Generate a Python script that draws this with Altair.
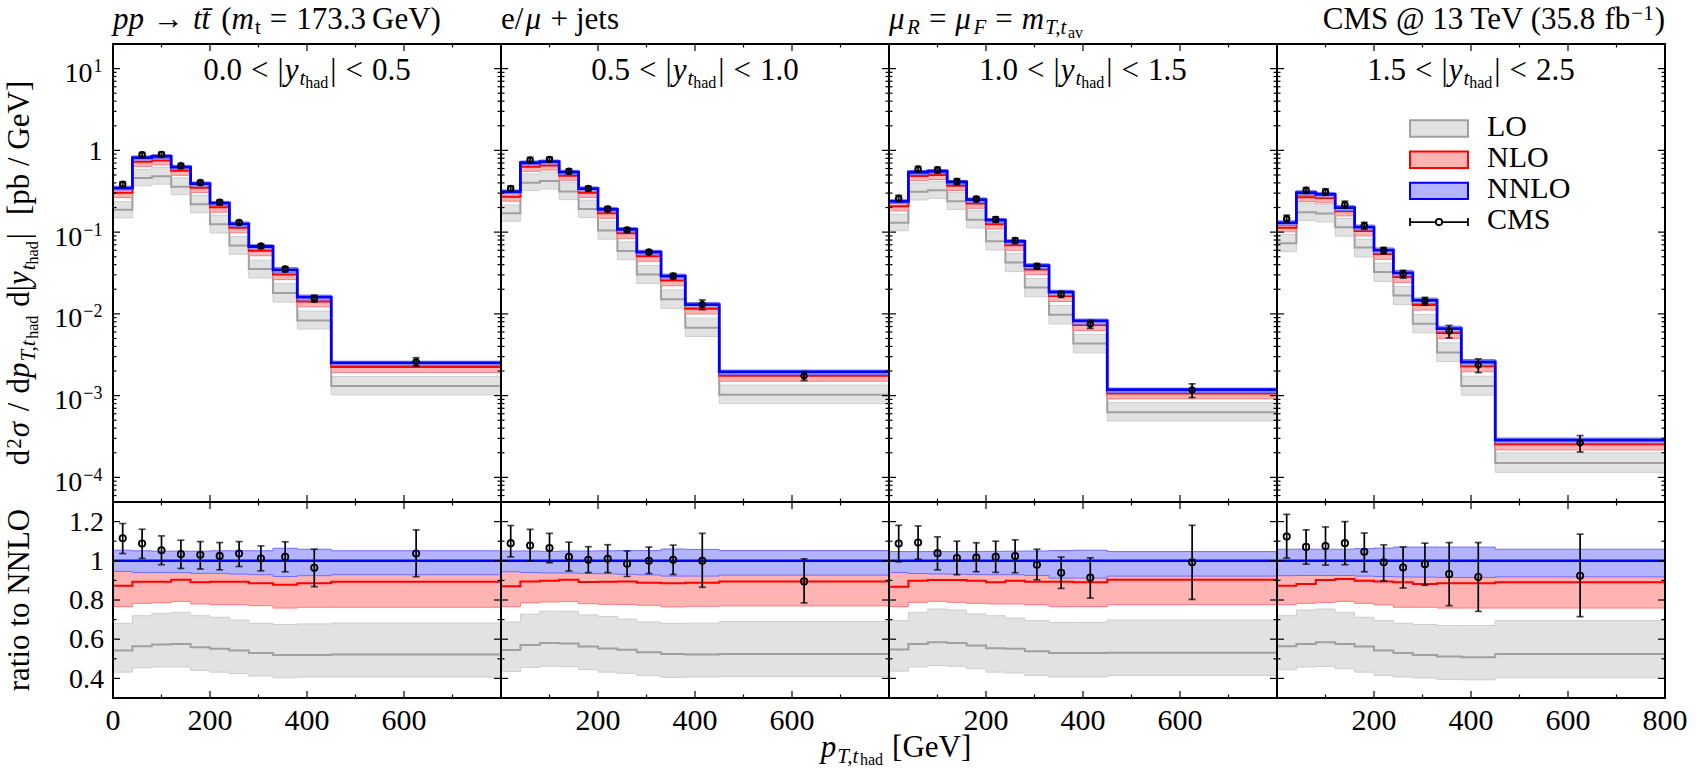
import altair as alt
import pandas as pd

FONT = "Liberation Serif"

# p_T(t_had) bin edges and the positions of the CMS points [GeV]
EDGES = [0, 40, 80, 120, 160, 200, 240, 280, 330, 380, 450, 800]
CENTERS = [20, 60, 100, 140, 180, 220, 260, 305, 355, 415, 625]

# |y(t_had)| slices, one per column
Y_SLICES = [("0.0", "0.5"), ("0.5", "1.0"), ("1.0", "1.5"), ("1.5", "2.5")]

# NNLO central prediction d2sigma / dpT d|y| [pb/GeV]
NNLO_XS = [
    [0.346, 0.813, 0.844, 0.625, 0.391, 0.226, 0.1265, 0.0667, 0.0346, 0.0160, 0.00251],
    [0.312, 0.706, 0.727, 0.543, 0.340, 0.190, 0.108, 0.0569, 0.0289, 0.0130, 0.00195],
    [0.238, 0.540, 0.555, 0.410, 0.250, 0.140, 0.0770, 0.0390, 0.0185, 0.0082, 0.00118],
    [0.130, 0.303, 0.289, 0.199, 0.115, 0.0602, 0.0318, 0.0146, 0.0066, 0.00258, 0.000286],
]

# everything below is normalised to the NNLO central value
LO_C = [
    [0.542, 0.564, 0.573, 0.576, 0.559, 0.551, 0.542, 0.529, 0.519, 0.520, 0.522],
    [0.545, 0.570, 0.580, 0.578, 0.563, 0.552, 0.546, 0.534, 0.524, 0.522, 0.525],
    [0.547, 0.576, 0.585, 0.580, 0.568, 0.554, 0.551, 0.539, 0.529, 0.529, 0.531],
    [0.564, 0.576, 0.585, 0.576, 0.563, 0.542, 0.529, 0.520, 0.512, 0.508, 0.525],
]
LO_LO = [
    [0.432, 0.454, 0.458, 0.458, 0.441, 0.432, 0.424, 0.412, 0.403, 0.407, 0.407],
    [0.435, 0.456, 0.462, 0.460, 0.445, 0.432, 0.426, 0.414, 0.405, 0.407, 0.410],
    [0.437, 0.458, 0.466, 0.462, 0.449, 0.432, 0.427, 0.415, 0.407, 0.407, 0.415],
    [0.444, 0.458, 0.461, 0.449, 0.432, 0.415, 0.407, 0.402, 0.395, 0.393, 0.403],
]
LO_HI = [
    [0.681, 0.720, 0.732, 0.737, 0.720, 0.712, 0.698, 0.681, 0.675, 0.678, 0.683],
    [0.688, 0.728, 0.743, 0.742, 0.724, 0.716, 0.703, 0.688, 0.680, 0.682, 0.690],
    [0.695, 0.737, 0.754, 0.749, 0.729, 0.720, 0.708, 0.695, 0.686, 0.686, 0.698],
    [0.720, 0.749, 0.754, 0.737, 0.712, 0.695, 0.681, 0.675, 0.670, 0.670, 0.695],
]
NLO_C = [
    [0.873, 0.893, 0.893, 0.903, 0.890, 0.893, 0.893, 0.886, 0.878, 0.886, 0.893],
    [0.870, 0.895, 0.898, 0.903, 0.892, 0.893, 0.895, 0.888, 0.885, 0.888, 0.895],
    [0.868, 0.898, 0.902, 0.902, 0.898, 0.890, 0.898, 0.893, 0.893, 0.890, 0.903],
    [0.873, 0.881, 0.902, 0.907, 0.898, 0.895, 0.890, 0.881, 0.885, 0.885, 0.890],
]
NLO_LO = [
    [0.766, 0.783, 0.786, 0.793, 0.780, 0.776, 0.776, 0.771, 0.759, 0.763, 0.763],
    [0.766, 0.785, 0.790, 0.792, 0.781, 0.778, 0.777, 0.773, 0.765, 0.768, 0.770],
    [0.766, 0.788, 0.793, 0.788, 0.783, 0.780, 0.780, 0.776, 0.766, 0.766, 0.776],
    [0.776, 0.783, 0.788, 0.793, 0.783, 0.775, 0.763, 0.763, 0.759, 0.759, 0.759],
]
NLO_HI = [
    [0.988, 1.000, 1.000, 1.008, 1.000, 1.000, 1.006, 1.000, 0.995, 1.000, 1.002],
    [0.986, 1.002, 1.004, 1.008, 1.000, 1.002, 1.004, 1.000, 0.998, 1.002, 1.004],
    [0.983, 1.003, 1.005, 1.005, 1.008, 1.015, 1.018, 1.010, 1.004, 1.005, 1.020],
    [0.990, 1.000, 1.014, 1.014, 1.010, 1.018, 1.020, 1.020, 1.020, 1.020, 1.020],
]
NNLO_LO = [
    [0.946, 0.940, 0.940, 0.940, 0.936, 0.936, 0.932, 0.929, 0.920, 0.924, 0.929],
    [0.944, 0.940, 0.938, 0.938, 0.935, 0.934, 0.931, 0.928, 0.922, 0.922, 0.927],
    [0.940, 0.935, 0.933, 0.932, 0.930, 0.929, 0.929, 0.925, 0.912, 0.912, 0.922],
    [0.924, 0.925, 0.925, 0.925, 0.922, 0.920, 0.918, 0.917, 0.915, 0.915, 0.918],
]
NNLO_HI = [
    [1.054, 1.051, 1.049, 1.049, 1.049, 1.051, 1.051, 1.051, 1.064, 1.059, 1.051],
    [1.050, 1.050, 1.048, 1.050, 1.050, 1.051, 1.052, 1.052, 1.060, 1.058, 1.052],
    [1.047, 1.047, 1.047, 1.047, 1.047, 1.048, 1.049, 1.050, 1.052, 1.054, 1.047],
    [1.059, 1.059, 1.059, 1.059, 1.062, 1.065, 1.070, 1.070, 1.070, 1.070, 1.059],
]
CMS_R = [
    [1.115, 1.088, 1.054, 1.034, 1.031, 1.025, 1.037, 1.012, 1.020, 0.964, 1.037],
    [1.090, 1.078, 1.065, 1.020, 1.005, 1.010, 0.985, 1.000, 1.005, 1.000, 0.895],
    [1.088, 1.093, 1.039, 1.014, 1.017, 1.020, 1.024, 0.980, 0.939, 0.914, 0.992],
    [1.124, 1.071, 1.075, 1.090, 1.046, 0.992, 0.966, 0.983, 0.932, 0.917, 0.924],
]
CMS_R_HI = [
    [1.190, 1.161, 1.127, 1.105, 1.098, 1.093, 1.098, 1.076, 1.097, 1.059, 1.158],
    [1.180, 1.160, 1.140, 1.095, 1.072, 1.082, 1.050, 1.070, 1.080, 1.140, 1.010],
    [1.181, 1.178, 1.122, 1.100, 1.092, 1.100, 1.107, 1.059, 1.019, 1.015, 1.181],
    [1.237, 1.158, 1.173, 1.200, 1.142, 1.081, 1.071, 1.090, 1.093, 1.093, 1.136],
]
CMS_R_LO = [
    [1.037, 1.012, 0.980, 0.961, 0.958, 0.954, 0.971, 0.949, 0.944, 0.868, 0.919],
    [1.020, 1.000, 0.990, 0.948, 0.940, 0.940, 0.920, 0.935, 0.930, 0.865, 0.785],
    [0.995, 1.008, 0.954, 0.929, 0.944, 0.941, 0.939, 0.903, 0.859, 0.810, 0.803],
    [1.014, 0.983, 0.978, 0.980, 0.944, 0.898, 0.861, 0.875, 0.771, 0.742, 0.715],
]

# axis ticks and labels
LOG_MAJOR = [1e-4, 1e-3, 1e-2, 1e-1, 1.0, 10.0]
LOG_MINOR = [m * 10.0 ** k for k in range(-5, 2) for m in range(2, 10) if 5e-5 < m * 10.0 ** k < 20]
LOG_LABEL_POS = [10.0, 1.0, 0.1, 0.01, 0.001, 0.0001]
LOG_LABEL_EXP = ["1", "", "\u22121", "\u22122", "\u22123", "\u22124"]
RATIO_MAJOR = [0.4, 0.6, 0.8, 1.0, 1.2]
RATIO_LABELS = ["0.4", "0.6", "0.8", "1", "1.2"]
RATIO_MINOR = [0.5, 0.7, 0.9, 1.1]
X_MAJOR = [200, 400, 600]
X_MINOR = [100, 300, 500, 700]
X_LABELS = [[0, 200, 400, 600], [200, 400, 600], [200, 400, 600], [200, 400, 600, 800]]

LEGEND_LABELS = ["LO", "NLO", "NNLO", "CMS"]

# colours
GRAY_FILL, GRAY_EDGE, GRAY_LINE = "#e2e2e2", "#cdcdcd", "#a0a0a0"
RED_FILL, RED_EDGE, RED_LINE = "#ffb3b3", "#ff7a7a", "#ff0000"
BLUE_FILL, BLUE_EDGE, BLUE_LINE = "#b3b3ff", "#6e6eff", "#0000ff"

PANEL_W, TOP_H, BOT_H = 388, 458, 196
S_MAIN, S_SUB, S_SUBSUB = 31, 21, 16
S_YTICK, S_XTICK, S_SUP = 28, 30, 18

XS = alt.Scale(domain=[0, 800], nice=False, zero=False)
YS_TOP = alt.Scale(type="log", domain=[5e-5, 20], nice=False)
YS_BOT = alt.Scale(domain=[0.3, 1.3], nice=False, zero=False)

# approximate advance widths (em) of the serif face, used to chain text pieces
W_RM = {" ": .25, "(": .333, ")": .333, "+": .564, ",": .25, ".": .25, "/": .278,
        "<": .564, "=": .564, "@": .921, "[": .333, "]": .333, "|": .2, "\u2212": .564,
        "\u2192": 1.0, "\u03c3": .55, "\u03bc": .55, "\u0304": 0.0,
        "C": .667, "G": .722, "L": .611, "M": .889, "N": .722, "O": .722, "S": .556,
        "T": .611, "V": .722, "a": .444, "b": .5, "d": .5, "e": .444, "f": .333,
        "h": .5, "i": .278, "j": .278, "m": .778, "o": .5, "p": .5, "r": .333,
        "s": .389, "t": .278, "v": .5, "y": .5}
W_IT = {"p": .5, "t": .278, "m": .722, "y": .444, "T": .556, "R": .611, "F": .611,
        ",": .25, "\u03bc": .55, "\u03c3": .55}


def text_width(s, size, italic=False):
    tab = W_IT if italic else W_RM
    return size * sum(tab.get(c, W_RM.get(c, 0.5)) for c in s)


def typeset(parts, x, y, align="left", angle=0):
    """parts: (text, italic, size, shift-below-baseline, gap-before)."""
    total = sum(g + text_width(t, s, it) for t, it, s, sh, g in parts)
    pos = {"left": 0.0, "center": -total / 2, "right": -total}[align]
    marks = []
    for t, it, s, sh, g in parts:
        pos += g
        if angle == 0:
            px, py = x + pos, y + sh
        else:
            px, py = x + sh, y - pos
        marks.append(
            alt.Chart(pd.DataFrame({"label": [t]}))
            .mark_text(font=FONT, fontSize=s, fontStyle="italic" if it else "normal",
                       align="left", baseline="alphabetic", angle=angle, color="black")
            .encode(x=alt.value(px), y=alt.value(py), text="label:N")
        )
        pos += text_width(t, s, it)
    return marks


def xenc(field="x"):
    return alt.X(f"{field}:Q", scale=XS, axis=None)


def yenc(field, ys):
    return alt.Y(f"{field}:Q", scale=ys, axis=None)


def step_frame(cols):
    d = {"x": EDGES}
    for k, v in cols.items():
        d[k] = list(v) + [v[-1]]
    return pd.DataFrame(d)


def band(df, ys, lo, hi, mid, fill, edge, line, lw):
    base = alt.Chart(df)
    return [
        base.mark_area(interpolate="step-after", color=fill, opacity=1)
        .encode(x=xenc(), y=yenc(lo, ys), y2=f"{hi}:Q"),
        base.mark_line(interpolate="step-after", color=edge, strokeWidth=1)
        .encode(x=xenc(), y=yenc(lo, ys)),
        base.mark_line(interpolate="step-after", color=edge, strokeWidth=1)
        .encode(x=xenc(), y=yenc(hi, ys)),
        base.mark_line(interpolate="step-after", color=line, strokeWidth=lw)
        .encode(x=xenc(), y=yenc(mid, ys)),
    ]


def cms_marks(df, ys, size, sw):
    base = alt.Chart(df)
    return [
        base.mark_rule(color="black", strokeWidth=1.7).encode(x=xenc(), y=yenc("lo", ys), y2="hi:Q"),
        base.mark_tick(orient="horizontal", color="black", size=7, thickness=1.7)
        .encode(x=xenc(), y=yenc("lo", ys)),
        base.mark_tick(orient="horizontal", color="black", size=7, thickness=1.7)
        .encode(x=xenc(), y=yenc("hi", ys)),
        base.mark_point(shape="circle", filled=False, color="black", size=size,
                        strokeWidth=sw, opacity=1).encode(x=xenc(), y=yenc("y", ys)),
    ]


def frame_marks(ys, major, minor, h):
    out = []
    for vals, ln in ((major, 7), (minor, 3.5)):
        b = alt.Chart(pd.DataFrame({"v": vals})).mark_rule(color="black", strokeWidth=1.2)
        out.append(b.encode(y=yenc("v", ys), x=alt.value(0), x2=alt.value(ln)))
        out.append(b.encode(y=yenc("v", ys), x=alt.value(PANEL_W - ln), x2=alt.value(PANEL_W)))
    for vals, ln in ((X_MAJOR, 7), (X_MINOR, 3.5)):
        b = alt.Chart(pd.DataFrame({"v": vals})).mark_rule(color="black", strokeWidth=1.2)
        out.append(b.encode(x=xenc("v"), y=alt.value(0), y2=alt.value(ln)))
        out.append(b.encode(x=xenc("v"), y=alt.value(h - ln), y2=alt.value(h)))
    out.append(
        alt.Chart(pd.DataFrame({"k": [0]}))
        .mark_rect(fillOpacity=0, stroke="black", strokeWidth=2)
        .encode(x=alt.value(0), x2=alt.value(PANEL_W), y=alt.value(0), y2=alt.value(h))
    )
    return out


def theory_frames(i, scale_to_xs):
    nn = NNLO_XS[i] if scale_to_xs else [1.0] * len(CENTERS)

    def sc(r):
        return [a * b for a, b in zip(r, nn)]

    steps = step_frame({
        "lo_c": sc(LO_C[i]), "lo_lo": sc(LO_LO[i]), "lo_hi": sc(LO_HI[i]),
        "nlo_c": sc(NLO_C[i]), "nlo_lo": sc(NLO_LO[i]), "nlo_hi": sc(NLO_HI[i]),
        "nnlo_c": nn, "nnlo_lo": sc(NNLO_LO[i]), "nnlo_hi": sc(NNLO_HI[i]),
    })
    cms = pd.DataFrame({"x": CENTERS, "y": sc(CMS_R[i]), "lo": sc(CMS_R_LO[i]), "hi": sc(CMS_R_HI[i])})
    return steps, cms


def theory_layers(steps, ys, blue_w):
    return (
        band(steps, ys, "lo_lo", "lo_hi", "lo_c", GRAY_FILL, GRAY_EDGE, GRAY_LINE, 2)
        + band(steps, ys, "nlo_lo", "nlo_hi", "nlo_c", RED_FILL, RED_EDGE, RED_LINE, 2)
        + band(steps, ys, "nnlo_lo", "nnlo_hi", "nnlo_c", BLUE_FILL, BLUE_EDGE, BLUE_LINE, blue_w)
    )


def log_tick_labels():
    df = pd.DataFrame({"v": LOG_LABEL_POS, "exp": LOG_LABEL_EXP})
    out = []
    one = df[df["exp"] == ""].assign(t="1")
    out.append(
        alt.Chart(one).mark_text(font=FONT, fontSize=S_YTICK, align="right", baseline="alphabetic",
                                 dy=9.2, color="black")
        .encode(y=yenc("v", YS_TOP), x=alt.value(-10.6), text="t:N")
    )
    for grp in (df[df["exp"] == "1"], df[df["exp"].str.startswith("\u2212")]):
        grp = grp.assign(t="10")
        sw = text_width(grp["exp"].iloc[0], S_SUP)
        out.append(
            alt.Chart(grp).mark_text(font=FONT, fontSize=S_YTICK, align="right", baseline="alphabetic",
                                     dy=13.5, color="black")
            .encode(y=yenc("v", YS_TOP), x=alt.value(-11.6 - sw), text="t:N")
        )
        out.append(
            alt.Chart(grp).mark_text(font=FONT, fontSize=S_SUP, align="right", baseline="alphabetic",
                                     dy=3.5, color="black")
            .encode(y=yenc("v", YS_TOP), x=alt.value(-10.6), text="exp:N")
        )
    return out


def legend_marks():
    out = []
    fills = [GRAY_FILL, RED_FILL, BLUE_FILL]
    edges = [GRAY_LINE, RED_LINE, BLUE_LINE]
    x0, x1, tx = 133, 191, 210
    for k, lab in enumerate(LEGEND_LABELS):
        c = 84.5 + 31.2 * k
        one = alt.Chart(pd.DataFrame({"label": [lab]}))
        if k < 3:
            out.append(one.mark_rect(fill=fills[k], stroke=edges[k], strokeWidth=2)
                       .encode(x=alt.value(x0), x2=alt.value(x1), y=alt.value(c - 8.2), y2=alt.value(c + 8.2)))
        else:
            out.append(one.mark_rule(color="black", strokeWidth=1.8)
                       .encode(x=alt.value(x0), x2=alt.value(x1), y=alt.value(c)))
            for xe in (x0, x1):
                out.append(one.mark_rule(color="black", strokeWidth=1.8)
                           .encode(x=alt.value(xe), y=alt.value(c - 4), y2=alt.value(c + 4)))
            out.append(one.mark_point(shape="circle", filled=True, fill="white", stroke="black",
                                      size=40, strokeWidth=1.8, opacity=1)
                       .encode(x=alt.value((x0 + x1) / 2), y=alt.value(c)))
        out.append(one.mark_text(font=FONT, fontSize=30, align="left", baseline="alphabetic",
                                 color="black")
                   .encode(x=alt.value(tx), y=alt.value(c + 7), text="label:N"))
    return out


def slice_label(i):
    lo, hi = Y_SLICES[i]
    parts = [(lo, False, S_MAIN, 0, 0), ("<", False, S_MAIN, 0, 9), ("|", False, S_MAIN, 0, 9),
             ("y", True, S_MAIN, 0, 1), ("t", True, S_SUB, 5, 1), ("had", False, S_SUBSUB, 8.5, 0),
             ("|", False, S_MAIN, 0, 2), ("<", False, S_MAIN, 0, 9), (hi, False, S_MAIN, 0, 9)]
    return typeset(parts, PANEL_W / 2, 35.5, align="center")


TITLE_Y = -14.7
HEADERS = [
    ([("pp", True, S_MAIN, 0, 0), ("\u2192", False, S_MAIN, 0, 9), ("tt\u0304", True, S_MAIN, 0, 9),
      ("(", False, S_MAIN, 0, 11), ("m", True, S_MAIN, 0, 0), ("t", False, S_SUB, 5, 1),
      ("=", False, S_MAIN, 0, 9), ("173.3", False, S_MAIN, 0, 9), ("GeV)", False, S_MAIN, 0, 6)], "left"),
    ([("e/", False, S_MAIN, 0, 0), ("\u03bc", True, S_MAIN, 0, 2), ("+", False, S_MAIN, 0, 8),
      ("jets", False, S_MAIN, 0, 8)], "left"),
    ([("\u03bc", True, S_MAIN, 0, 0), ("R", True, S_SUB, 5, 1), ("=", False, S_MAIN, 0, 9),
      ("\u03bc", True, S_MAIN, 0, 9), ("F", True, S_SUB, 5, 1), ("=", False, S_MAIN, 0, 9),
      ("m", True, S_MAIN, 0, 9), ("T,t", True, S_SUB, 5, 1), ("av", False, S_SUBSUB, 8.5, 0)], "left"),
    ([("CMS @ 13 TeV (35.8", False, S_MAIN, 0, 0), ("fb", False, S_MAIN, 0, 6),
      ("\u22121", False, S_SUB, -9, 1), (")", False, S_MAIN, 0, 1)], "right"),
]

Y_TITLE_X = -84.5
TOP_YTITLE = [("d", False, S_MAIN, 0, 0), ("2", False, S_SUB, -8, 1), ("\u03c3", True, S_MAIN, 0, 1),
              ("/", False, S_MAIN, 0, 9), ("d", False, S_MAIN, 0, 9), ("p", True, S_MAIN, 0, 0),
              ("T,t", True, S_SUB, 6, 1), ("had", False, S_SUBSUB, 9, 0), ("d|", False, S_MAIN, 0, 9),
              ("y", True, S_MAIN, 0, 0), ("t", True, S_SUB, 6, 1), ("had", False, S_SUBSUB, 9, 0),
              ("|", False, S_MAIN, 0, 2), ("[pb / GeV]", False, S_MAIN, 0, 18)]
BOT_YTITLE = [("ratio to NNLO", False, S_MAIN, 0, 0)]
X_TITLE = [("p", True, S_MAIN, 0, 0), ("T,t", True, S_SUB, 6, 1), ("had", False, S_SUBSUB, 8, 0),
           ("[GeV]", False, S_MAIN, 0, 9)]


def top_panel(i):
    steps, cms = theory_frames(i, True)
    layers = theory_layers(steps, YS_TOP, 2.8) + cms_marks(cms, YS_TOP, 30, 2.1)
    layers += frame_marks(YS_TOP, LOG_MAJOR, LOG_MINOR, TOP_H)
    layers += slice_label(i)
    parts, al = HEADERS[i]
    layers += typeset(parts, 0 if al == "left" else PANEL_W, TITLE_Y, align=al)
    if i == 0:
        layers += log_tick_labels()
        layers += typeset(TOP_YTITLE, Y_TITLE_X, TOP_H / 2, align="center", angle=270)
    if i == 3:
        layers += legend_marks()
    return alt.layer(*layers).properties(width=PANEL_W, height=TOP_H)


def bottom_panel(i):
    steps, cms = theory_frames(i, False)
    layers = theory_layers(steps, YS_BOT, 2.5) + cms_marks(cms, YS_BOT, 40, 1.8)
    layers += frame_marks(YS_BOT, RATIO_MAJOR, RATIO_MINOR, BOT_H)
    xl = pd.DataFrame({"v": X_LABELS[i], "t": [str(v) for v in X_LABELS[i]]})
    layers.append(
        alt.Chart(xl).mark_text(font=FONT, fontSize=S_XTICK, align="center", baseline="alphabetic",
                                color="black")
        .encode(x=xenc("v"), y=alt.value(BOT_H + 32), text="t:N")
    )
    if i == 0:
        yl = pd.DataFrame({"v": RATIO_MAJOR, "t": RATIO_LABELS})
        layers.append(
            alt.Chart(yl).mark_text(font=FONT, fontSize=S_YTICK, align="right", baseline="alphabetic",
                                    dy=9.2, color="black")
            .encode(y=yenc("v", YS_BOT), x=alt.value(-9), text="t:N")
        )
        layers += typeset(BOT_YTITLE, Y_TITLE_X, BOT_H / 2, align="center", angle=270)
    if i == 1:
        layers += typeset(X_TITLE, PANEL_W + 7, 255, align="center")
    return alt.layer(*layers).properties(width=PANEL_W, height=BOT_H)


cells = [top_panel(i) for i in range(4)] + [bottom_panel(i) for i in range(4)]
chart = (
    alt.concat(*cells, columns=4, spacing=0, bounds="flush", align="each")
    .properties(padding={"left": 3, "top": 3, "right": 0, "bottom": 0})
    .configure_view(strokeWidth=0)
)
chart.save("out.html", embed_options={"renderer": "svg", "actions": False})
